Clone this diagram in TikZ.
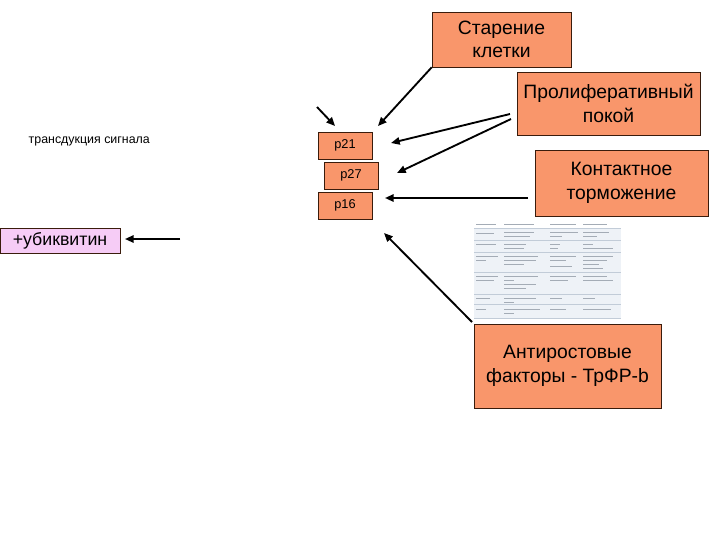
\documentclass[tikz,border=0pt]{standalone}
\usepackage{fontspec}
\setmainfont{Liberation Sans}
\usetikzlibrary{arrows.meta}
\definecolor{boxfill}{HTML}{F9966B}
\definecolor{boxline}{HTML}{3A1C0C}
\definecolor{ubqfill}{HTML}{F6CCF6}
\definecolor{tblfill}{HTML}{EEF2F7}
\definecolor{tblline}{HTML}{C2CCD8}
\definecolor{tbltext}{HTML}{A4ACB6}

\tikzset{
  factor/.style={draw=boxline, fill=boxfill, align=center, inner sep=0pt,
    font=\fontsize{14.5}{17.5}\selectfont},
  inhib/.style={draw=boxline, fill=boxfill, inner sep=0pt,
    minimum width=40.5pt, minimum height=20.25pt, font=\fontsize{9.6}{11}\selectfont},
  arr/.style={-{Triangle[length=6.5pt,width=5.5pt]}, line width=1.4pt},
}

\begin{document}
\begin{tikzpicture}[x=0.75pt, y=-0.75pt]
    \useasboundingbox (0,0) rectangle (720,540);
    % stimuli
    \node[factor, minimum width=104.25pt, minimum height=41.25pt] (aging) at (501.5,39.5) {Старение\\клетки};
    \node[factor, minimum width=137.25pt, minimum height=47.25pt] (quiesc) at (608.5,103.5) {Пролиферативный\\покой};
    \node[factor, minimum width=129.75pt, minimum height=49.5pt] (contact) at (621.5,183) {Контактное\\торможение};
    \node[factor, minimum width=140.25pt, minimum height=63pt] (antigrowth) at (567.5,366) {Антиростовые\\факторы - ТрФР-b};
    % CDK inhibitors
    \node[inhib] (p21) at (345,145.5) {p21};
    \node[inhib] (p27) at (351,175.5) {p27};
    \node[inhib] (p16) at (345,205.5) {p16};
    \node[draw=boxline, fill=ubqfill, inner sep=0pt, minimum width=90pt, minimum height=18.75pt,
      font=\fontsize{13.3}{15}\selectfont] (ubq) at (60,240.5) {+убиквитин};
    \node[anchor=west, font=\fontsize{9.3}{11}\selectfont] (signal) at (24,141) {трансдукция сигнала};

    % table picture
    \fill[white] (474,220) rectangle (621,319);
    \fill[tblfill] (474,229) rectangle (621,318);
    \draw[tblline, line width=0.6pt] (474,228) -- (621,228);
    \foreach \y in {240,252,272,294,304,318}
      \draw[tblline, line width=0.3pt] (474,\y) -- (621,\y);
    \foreach \x/\w in {476/20,504/30,550/26,583/24}
      \fill[tbltext] (\x,223.5) rectangle (\x+\w,225);
    \foreach \x/\w/\y in {
      476/18/233, 504/30/232, 504/26/236, 550/28/232, 550/12/236, 583/26/232, 583/14/236,
      476/20/244, 504/22/244, 504/20/248, 550/10/244, 550/8/248, 583/10/244, 583/30/248,
      476/22/256, 476/10/260, 504/34/256, 504/32/260, 504/20/264, 550/26/256, 550/16/260, 550/22/266,
        583/30/256, 583/24/260, 583/16/264, 583/20/268,
      476/22/276, 476/18/280, 504/34/276, 504/10/280, 504/32/284, 504/22/288, 550/26/276, 550/18/280,
        583/24/276, 583/30/280,
      476/14/298, 504/32/298, 504/10/302, 550/12/298, 583/12/298,
      476/10/309, 504/36/309, 504/10/313, 550/16/309, 583/28/309}
      \fill[tbltext] (\x,\y) rectangle (\x+\w,\y+1.3);

    % arrow ends
    \coordinate (signal-end) at (317,107);
    \coordinate (p21-top) at (335,126);
    \coordinate (aging-tip) at (378,126);
    \coordinate (quiesc-a) at (510,114);
    \coordinate (quiesc-b) at (511,119);
    \coordinate (p21-right) at (391,143);
    \coordinate (p27-right) at (397,173);
    \coordinate (contact-start) at (528,198);
    \coordinate (p16-right) at (385,198);
    \coordinate (ubq-start) at (180,239);
    \coordinate (ubq-right) at (125,239);
    \coordinate (anti-start) at (472,322);
    \coordinate (p16-below) at (384,233);
    \draw[arr] (signal-end) -- (p21-top);
    \draw[arr] (aging.south west) -- (aging-tip);
    \draw[arr] (quiesc-a) -- (p21-right);
    \draw[arr] (quiesc-b) -- (p27-right);
    \draw[arr] (contact-start) -- (p16-right);
    \draw[arr] (ubq-start) -- (ubq-right);
    \draw[arr] (anti-start) -- (p16-below);
\end{tikzpicture}
\end{document}
